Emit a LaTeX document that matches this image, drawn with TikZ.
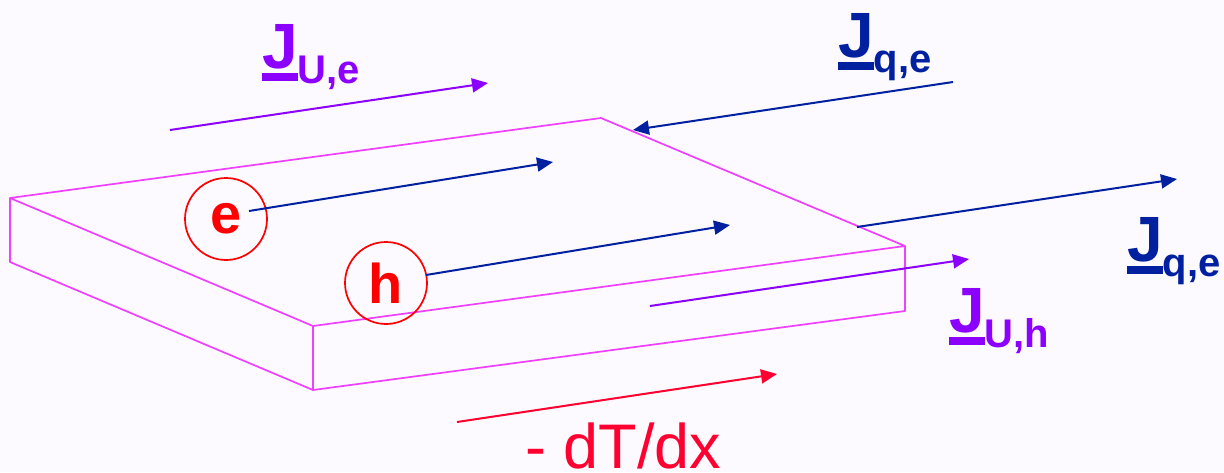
\documentclass[tikz,border=0pt]{standalone}
\usepackage{fontspec}
\setmainfont{Liberation Sans}
\usetikzlibrary{arrows.meta}

\definecolor{bgpaper}{HTML}{FCFAFF}
\definecolor{slabpink}{HTML}{F040FF}
\definecolor{fluxviolet}{HTML}{8C00FF}
\definecolor{fluxblue}{HTML}{0020A0}
\definecolor{carrierred}{HTML}{FF0000}
\definecolor{gradred}{HTML}{FF0030}

% underlined bold J followed by a lowered subscript
\newcommand{\fluxJ}[1]{%
  {\fontsize{64}{64}\selectfont\bfseries
   \setbox0\hbox{J}\rlap{\rule[-13pt]{\wd0}{8pt}}J}%
  \raisebox{-15pt}{\fontsize{40}{40}\selectfont\bfseries #1}}

\begin{document}
\begin{tikzpicture}[x=1pt,y=-1pt,
  slab/.style={draw=slabpink,line width=1.7pt,line join=round},
  flux/.style={line width=2pt,-{Triangle[length=16pt,width=14pt]}},
  carrier/.style={circle,draw=carrierred,line width=1.7pt,minimum size=82pt,
    inner sep=0pt,text=carrierred,font=\fontsize{56}{56}\selectfont\bfseries},
  fluxlbl/.style={inner sep=0pt,anchor=base west}]

\fill[bgpaper] (0,0) rectangle (1224,472);
\useasboundingbox (0,0) rectangle (1224,472);

% slab corners
\coordinate (tl) at (10,198);
\coordinate (tb) at (601,118);
\coordinate (tr) at (905,246);
\coordinate (tf) at (313,326);
\coordinate (bl) at (10,262);
\coordinate (bf) at (313,390);
\coordinate (br) at (905,311);

\draw[slab] (tl) -- (tb) -- (tr) -- (tf) -- cycle;
\draw[slab] (tl) -- (bl) -- (bf) -- (br) -- (tr);
\draw[slab] (tf) -- (bf);

% carriers
\node[carrier] (e) at (226,219) {e};
\node[carrier] (h) at (386,283) {h};

% arrow end points
\coordinate (ueS) at (170,130);  \coordinate (ueT) at (488,83);
\coordinate (qeS) at (953,82);   \coordinate (qeT) at (633,130);
\coordinate (eT)  at (553,162);
\coordinate (hT)  at (730,225);
\coordinate (qrS) at (857,227);  \coordinate (qrT) at (1177,179);
\coordinate (uhS) at (650,306);  \coordinate (uhT) at (969,259);
\coordinate (gS)  at (457,422);  \coordinate (gT)  at (777,374);

\draw[flux,fluxviolet] (ueS) -- (ueT);
\draw[flux,fluxblue] (qeS) -- (qeT);
\draw[flux,fluxblue] ([shift={(23,-8)}]e.center) -- (eT);
\draw[flux,fluxblue] ([shift={(40,-8)}]h.center) -- (hT);
\draw[flux,fluxblue] (qrS) -- (qrT);
\draw[flux,fluxviolet] (uhS) -- (uhT);
\draw[flux,gradred] (gS) -- (gT);

% labels
\node[fluxlbl,text=fluxviolet] (lue) at (262,68)  {\fluxJ{U,e}};
\node[fluxlbl,text=fluxblue]   (lqe) at (838,57)  {\fluxJ{q,e}};
\node[fluxlbl,text=fluxblue]   (lqr) at (1127,261) {\fluxJ{q,e}};
\node[fluxlbl,text=fluxviolet] (luh) at (949,332) {\fluxJ{U,h}};
\node[fluxlbl,text=gradred,font=\fontsize{63}{63}\selectfont] (grad) at (525,468) {- dT/dx};

\end{tikzpicture}
\end{document}
